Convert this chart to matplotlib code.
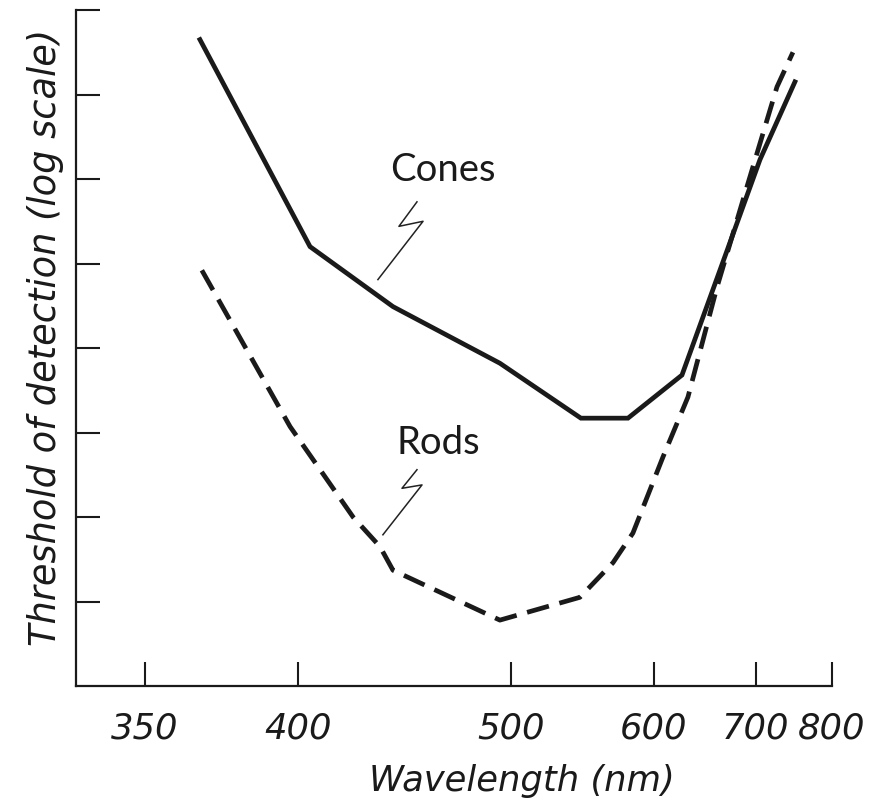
import matplotlib
matplotlib.use("Agg")
import matplotlib.pyplot as plt

# wavelength (nm) and threshold (log units, arbitrary)
cone_nm = [366.5, 404.7, 439.2, 493.4, 544.3, 579.0, 624.7, 705.1, 748.2]
cone_thr = [7.65, 5.20, 4.49, 3.82, 3.17, 3.17, 3.68, 6.23, 7.15]

rod_nm = [367.1, 397.2, 421.9, 433.4, 439.2, 493.4, 543.6, 567.5, 582.9,
          607.8, 630.2, 658.4, 690.3, 725.4, 745.6]
rod_thr = [4.92, 3.07, 2.00, 1.65, 1.37, 0.78, 1.05, 1.46, 1.81,
           2.71, 3.42, 4.72, 5.91, 7.09, 7.50]

xticks = [350, 400, 500, 600, 700, 800]
yticks = [1, 2, 3, 4, 5, 6, 7, 8]

# little hand-drawn leader squiggles for the labels
cone_leader_nm = [450.3, 441.9, 453.2, 432.5]
cone_leader_thr = [5.73, 5.44, 5.50, 4.81]
rod_leader_nm = [450.3, 443.3, 452.7, 434.7]
rod_leader_thr = [2.56, 2.34, 2.38, 1.79]

plt.rcParams['font.family'] = ['DejaVu Sans']

fig = plt.figure(figsize=(8.82, 8.09), dpi=100)
ax = fig.add_axes([0.0862, 0.152, 0.857, 0.8356])

# x axis is linear in 1/wavelength (wavenumber)
ax.set_xscale('function', functions=(lambda x: -1.0 / x, lambda y: -1.0 / y))
ax.set_xlim(331.3, 800)
ax.set_ylim(0, 8)

ax.plot(cone_nm, cone_thr, color='#1a1a1a', lw=3.4, solid_joinstyle='miter')
ax.plot(rod_nm, rod_thr, color='#1a1a1a', lw=3.4, dashes=(4.8, 2.3))

ax.plot(cone_leader_nm, cone_leader_thr, color='#222222', lw=1.1)
ax.plot(rod_leader_nm, rod_leader_thr, color='#222222', lw=1.1)
ax.text(463.0, 6.11, 'Cones', fontsize=27.5, family='Lato', ha='center', va='center', color='#1a1a1a')
ax.text(460.5, 2.88, 'Rods', fontsize=27.5, family='Lato', ha='center', va='center', color='#1a1a1a')

ax.spines['top'].set_visible(False)
ax.spines['right'].set_visible(False)
for s in ['left', 'bottom']:
    ax.spines[s].set_linewidth(1.6)
    ax.spines[s].set_color('#1a1a1a')

ax.set_xticks(xticks)
ax.set_xticklabels([str(t) for t in xticks], fontsize=25.5, style='italic', color='#1a1a1a')
ax.xaxis.set_minor_locator(matplotlib.ticker.NullLocator())
ax.set_yticks(yticks)
ax.set_yticklabels([])
ax.tick_params(direction='in', length=17, width=1.5, color='#1a1a1a', pad=18)
ax.tick_params(axis='y', pad=0)

ax.set_xlabel('Wavelength (nm)', fontsize=25.5, style='italic', color='#1a1a1a')
ax.xaxis.set_label_coords(0.59, -0.115)
ax.set_ylabel('Threshold of detection (log scale)', fontsize=26.5, style='italic', color='#1a1a1a')
ax.yaxis.set_label_coords(-0.016, 0.516)

fig.savefig('out.png', dpi=100)
